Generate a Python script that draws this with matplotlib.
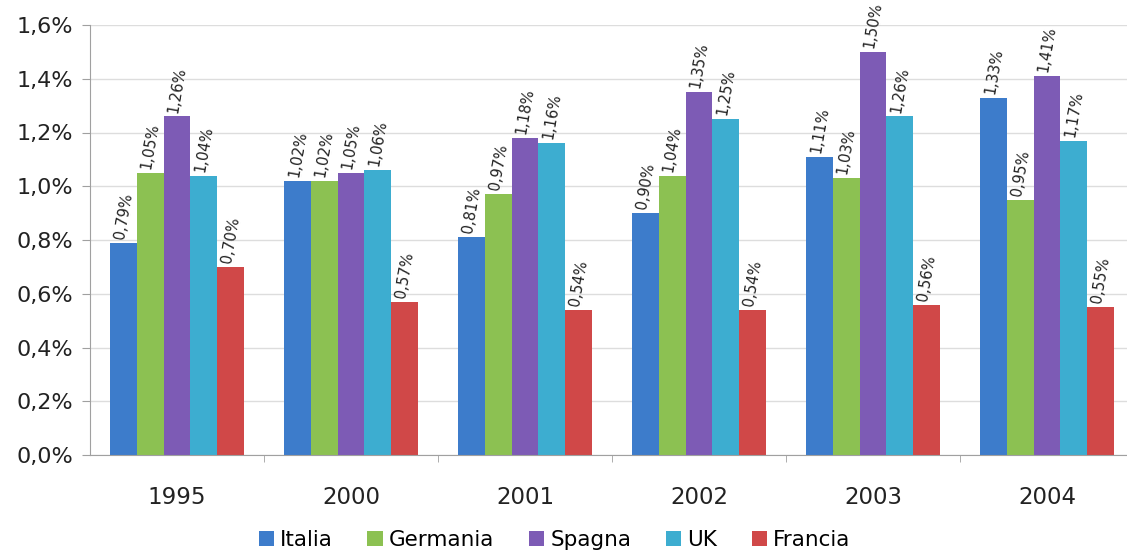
import numpy as np
import matplotlib.pyplot as plt

# quota percentuale per anno e paese
anni = ["1995", "2000", "2001", "2002", "2003", "2004"]
paesi = ["Italia", "Germania", "Spagna", "UK", "Francia"]
italia = [0.79, 1.02, 0.81, 0.90, 1.11, 1.33]
germania = [1.05, 1.02, 0.97, 1.04, 1.03, 0.95]
spagna = [1.26, 1.05, 1.18, 1.35, 1.50, 1.41]
uk = [1.04, 1.06, 1.16, 1.25, 1.26, 1.17]
francia = [0.70, 0.57, 0.54, 0.54, 0.56, 0.55]
y_ticks = [0.0, 0.2, 0.4, 0.6, 0.8, 1.0, 1.2, 1.4, 1.6]

serie = [italia, germania, spagna, uk, francia]
colori = ["#3D7CCB", "#8CC152", "#7D5BB5", "#3DADD0", "#D04848"]


def fmt(v, dec=2):
    return f"{v:.{dec}f}".replace(".", ",") + "%"


fig = plt.figure(figsize=(11.27, 5.55), dpi=100)
ax = fig.add_axes([90 / 1127, 1 - 455 / 555, 1037 / 1127, 430 / 555])

x = np.arange(len(anni))
w = 0.153
for i, (vals, col, nome) in enumerate(zip(serie, colori, paesi)):
    pos = x + (i - 2) * w
    ax.bar(pos, vals, width=w, color=col, label=nome, zorder=2)
    for p, v in zip(pos, vals):
        ax.text(p, v + 0.01, fmt(v), rotation=80, ha="center", va="bottom",
                fontsize=10.5, color="#222222")

ax.set_ylim(0, 1.6)
ax.set_xlim(-0.5, 5.46)
ax.set_yticks(y_ticks)
ax.set_yticklabels([fmt(t, 1) for t in y_ticks], fontsize=16, color="#222222")
ax.set_xticks(x)
ax.set_xticklabels(anni, fontsize=16.5, color="#222222")
ax.set_xticks(x[:-1] + 0.5, minor=True)
ax.grid(axis="y", color="#DDDDDD", linewidth=1, zorder=0)
ax.set_axisbelow(True)

for s in ["top", "right"]:
    ax.spines[s].set_visible(False)
ax.spines["left"].set_color("#A0A0A0")
ax.spines["bottom"].set_color("#A0A0A0")
ax.tick_params(axis="y", length=6, color="#A0A0A0", pad=6)
ax.tick_params(axis="x", which="major", length=0, pad=22)
ax.tick_params(axis="x", which="minor", length=5, color="#A0A0A0")

ax.legend(loc="center", bbox_to_anchor=(0.448, -0.197), ncol=5,
          frameon=False, fontsize=15.5, handlelength=0.7, handleheight=0.7,
          handletextpad=0.3, columnspacing=1.6)

fig.savefig("out.png", dpi=100)
